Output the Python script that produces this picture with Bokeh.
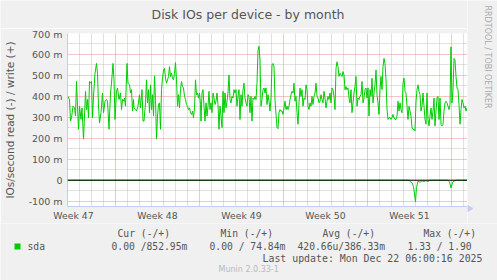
import math
from bokeh.plotting import figure
from bokeh.layouts import column, row
from bokeh.models import Range1d, FixedTicker, Span
from bokeh.core.properties import value
from bokeh.embed import file_html
from bokeh.resources import INLINE

# ---- data (x in hours since graph start, values in milli-IOs/s) ----
hours_wk47 = [1, 4, 6, 8, 11, 14, 16, 18, 20, 22,
              24, 27, 29, 32, 34, 36, 38, 40, 42, 44,
              46, 48, 50, 52, 55, 58, 60, 62, 64, 67,
              70, 72, 75, 78, 80, 83, 86, 88, 91, 93,
              95, 98, 100, 103, 106, 108, 110, 112, 114, 116,
              119, 121, 124, 126, 128, 130, 132]
write_wk47 = [400, 385, 282, 298, 353, 345, 306, 471, 353, 243,
              353, 290, 345, 196, 306, 424, 337, 385, 298, 471,
              463, 471, 298, 400, 510, 557, 510, 353, 274, 322,
              416, 322, 377, 385, 377, 243, 416, 463, 557, 479,
              290, 424, 440, 385, 416, 337, 385, 377, 392, 353,
              557, 463, 455, 416, 432, 330, 385]
hours_wk48 = [133, 136, 138, 141, 144, 146, 149, 151, 153, 156,
              158, 160, 162, 164, 166, 168, 170, 172, 174, 176,
              178, 180, 182, 184, 186, 188, 190, 192, 194, 196,
              198, 200, 202, 204, 206, 208, 210, 212, 214, 216,
              218, 220, 222, 224, 226, 228, 230, 232, 234, 236,
              238, 240, 242, 244, 246, 248, 250, 252, 254, 256,
              258, 260, 262, 264, 266]
write_wk48 = [345, 337, 330, 353, 408, 345, 432, 282, 282, 369,
              479, 369, 432, 322, 455, 337, 408, 306, 498, 385,
              196, 306, 361, 369, 243, 432, 487, 526, 534, 487,
              463, 479, 495, 542, 495, 510, 487, 479, 510, 561,
              479, 353, 408, 345, 432, 471, 447, 440, 400, 385,
              361, 353, 337, 345, 322, 314, 330, 298, 345, 479,
              408, 416, 392, 416, 361]
# from hour 267 on, one sample every 2 hours
hours_rest = list(range(267, 800, 2))
write_rest = [282, 416, 432, 353, 282, 369, 306, 353, 424, 337,
              369, 322, 416, 392, 361, 377, 416, 361, 243, 353,
              306, 251, 424, 322, 416, 345, 377, 416, 502, 385,
              369, 400, 392, 432, 416, 432, 353, 400, 432, 290,
              408, 353, 432, 463, 392, 369, 353, 408, 400, 322,
              400, 282, 392, 385, 400, 385, 463, 620, 639, 573,
              353, 385, 432, 440, 416, 440, 361, 408, 377,
              330, 392, 550, 557, 542, 385, 314, 251, 246, 322,
              337, 330, 330, 314, 345, 377, 337, 353, 337, 353,
              385, 408, 424, 416, 463, 377, 400, 322, 267, 369,
              440, 400, 432, 353, 392, 385, 455, 432, 353, 337,
              369, 353, 400, 361, 400, 416, 463, 400, 392, 369,
              377, 408, 385, 369, 424, 392, 345, 377, 400, 385,
              416, 369, 440, 432, 400, 337, 534,
              565, 542, 495, 510, 502, 495, 518, 502, 432, 447,
              432, 440, 392, 369, 432, 322, 369, 416, 447, 495,
              353, 392, 385, 400, 408, 471, 369, 392, 432, 440,
              392, 440, 306, 432, 400, 487, 369, 416, 455, 526,
              408, 369, 314, 432, 495, 432, 542, 581, 557, 479,
              337, 290, 298, 298, 290, 298, 314, 298, 290, 290,
              306, 377, 330, 369, 337,
              322, 463, 487, 424, 416, 353, 290, 353, 330, 306,
              251, 243, 243, 235, 377, 432, 455, 424, 408, 330,
              353, 416, 353, 290, 267, 416, 290, 259, 306, 345,
              290, 330, 392, 259, 330, 392, 400, 290, 392, 267,
              259, 267, 330, 369, 377, 369, 353, 337, 361, 636,
              369, 432, 581, 573, 495, 440, 432, 361, 267, 337,
              385, 369, 345, 353, 330, 345]
read_hours = [0, 683, 686, 689, 692, 696, 698, 701, 705, 709, 713, 717, 721, 724,
              761, 764, 767, 770, 773, 777, 799]
read_m = [0, 0, 8, 12, 30, 103, 35, 5, 10, 3, 6, 2, 7, 0,
          0, 8, 37, 12, 4, 0, 0]

week_label_hours = [12, 180, 348, 516, 684]
week_labels = ["Week 47", "Week 48", "Week 49", "Week 50", "Week 51"]
week_start_hours = [96, 264, 432, 600, 768]
y_ticks = [-100, 0, 100, 200, 300, 400, 500, 600, 700]
y_tick_labels = ["-100 m", "0", "100 m", "200 m", "300 m", "400 m", "500 m", "600 m", "700 m"]

title = "Disk IOs per device - by month"
y_title = "IOs/second read (-) / write (+)"
legend_name = "sda"
legend_headers = ["Cur (-/+)", "Min (-/+)", "Avg (-/+)", "Max (-/+)"]
legend_values = ["0.00 /852.95m", "0.00 / 74.84m", "420.66u/386.33m", "1.33 /  1.90"]
last_update = "Last update: Mon Dec 22 06:00:16 2025"
footer = "Munin 2.0.33-1"
side_text = "RRDTOOL / TOBI OETIKER"

hours = hours_wk47 + hours_wk48 + hours_rest
write = write_wk47 + write_wk48 + write_rest
read_neg = [-v for v in read_m]

x_min, x_max = 0, 800
y_min, y_max = -125.5, 700

GREEN = "#00CC00"
AXIS = "#C4CCF2"
TXT = "#555555"
BG = "#F0F0F0"
SANS = "DejaVu Sans"
MONO = "DejaVu Sans Mono"


def strip(w, h):
    """A plain figure whose data units are canvas pixels (y pointing down)."""
    f = figure(width=w, height=h, x_range=Range1d(0, w), y_range=Range1d(h, 0),
               min_border=0, x_axis_type=None, y_axis_type=None, frame_align=False,
               output_backend="svg", toolbar_location=None,
               background_fill_color=BG, border_fill_color=BG, outline_line_color=None)
    f.grid.visible = False
    return f


# ---- main chart ----
p = figure(width=467, height=195, frame_align=False,
           min_border_left=67, min_border_right=0, min_border_top=5, min_border_bottom=15,
           x_range=Range1d(x_min, x_max), y_range=Range1d(y_min, y_max),
           output_backend="svg", toolbar_location=None,
           background_fill_color="white", border_fill_color=BG,
           outline_line_color=None)

p.xaxis.ticker = FixedTicker(ticks=week_label_hours)
p.xaxis.major_label_overrides = {h: t for h, t in zip(week_label_hours, week_labels)}
p.yaxis.ticker = FixedTicker(ticks=y_ticks)
p.yaxis.major_label_overrides = {v: t for v, t in zip(y_ticks, y_tick_labels)}
for ax in (p.xaxis, p.yaxis):
    ax.major_tick_line_color = None
    ax.minor_tick_line_color = None
    ax.major_tick_out = 0
    ax.major_tick_in = 0
    ax.minor_tick_out = 0
    ax.minor_tick_in = 0
    ax.axis_line_color = AXIS
    ax.axis_line_width = 1
    ax.major_label_text_font = SANS
    ax.major_label_text_color = TXT
p.xaxis.major_label_text_font_size = "9.3px"
p.yaxis.major_label_text_font_size = "9.5px"
p.xaxis.major_label_standoff = 3
p.yaxis.major_label_standoff = 5
p.yaxis.axis_label = y_title
p.yaxis.axis_label_text_font = SANS
p.yaxis.axis_label_text_font_size = "10.5px"
p.yaxis.axis_label_text_font_style = "normal"
p.yaxis.axis_label_text_color = TXT
p.yaxis.axis_label_standoff = 10

day_hours = [h for h in range(24, 800, 24) if h not in week_start_hours]
minor_y = [v for v in range(-100, 701, 50) if v not in y_ticks]
p.xgrid.ticker = FixedTicker(ticks=week_start_hours, minor_ticks=day_hours)
p.ygrid.ticker = FixedTicker(ticks=y_ticks, minor_ticks=minor_y)
for g in (p.xgrid, p.ygrid):
    g.grid_line_color = "#EE8A8A"
    g.grid_line_alpha = 1
    g.grid_line_dash = "1 1"
    g.minor_grid_line_color = "#C2C2C2"
    g.minor_grid_line_alpha = 1
    g.minor_grid_line_dash = "1 1"

p.line(read_hours, read_neg, line_color=GREEN, line_width=1)
p.line(hours, write, line_color=GREEN, line_width=1)
p.add_layout(Span(location=0, dimension="width", line_color="black", line_width=1))

# ---- title strip ----
top = strip(467, 28)
top.text(x=[151], y=[14], text=[title], text_font=value(SANS), text_font_size="12.5px",
         text_color=TXT, text_align="left", text_baseline="middle")

# ---- right strip (text rotated, reading downwards) ----
side = strip(30, 223)
side.text(x=[20], y=[5], text=[side_text], text_font=value(SANS), text_font_size="8px",
          text_color="#AAAAAA", text_align="left", text_baseline="middle", angle=-math.pi / 2)
side.scatter(x=[2], y=[208], marker="triangle", size=6, angle=-math.pi / 2,
             fill_color=AXIS, line_color=AXIS)

# ---- legend strip ----
leg = strip(497, 57)
leg.quad(left=[14], right=[20], top=[20], bottom=[26], fill_color=GREEN, line_color=None)
leg.text(x=[27], y=[23], text=[legend_name], text_font=value(MONO), text_font_size="9.7px",
         text_color=TXT, text_baseline="middle")
leg.text(x=[117, 220, 322, 423], y=[10] * 4, text=legend_headers, text_font=value(MONO),
         text_font_size="9.7px", text_color=TXT, text_baseline="middle")
leg.text(x=[111, 209, 297, 407], y=[23] * 4, text=legend_values, text_font=value(MONO),
         text_font_size="9.7px", text_color=TXT, text_baseline="middle")
leg.text(x=[262], y=[35], text=[last_update], text_font=value(MONO), text_font_size="9.9px",
         text_color=TXT, text_align="left", text_baseline="middle")
leg.text(x=[218], y=[46], text=[footer], text_font=value(SANS), text_font_size="8px",
         text_color="#BBBBBB", text_align="left", text_baseline="middle")

layout = column(row(column(top, p), side), leg, spacing=0)
open("out.html", "w").write(file_html(layout, INLINE))
